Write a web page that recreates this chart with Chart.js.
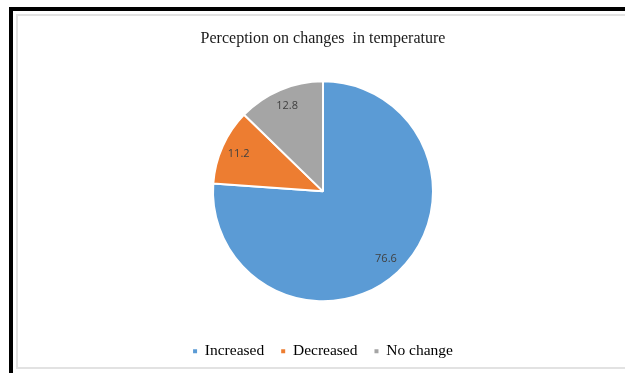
<!DOCTYPE html>
<html>
<head>
<meta charset="utf-8">
<script src="https://cdn.jsdelivr.net/npm/chart.js@4.4.1/dist/chart.umd.min.js"></script>
<style>
  html, body { margin: 0; padding: 0; background: #fff; overflow: hidden; }
  body { width: 625px; height: 373px; position: relative; }
  .frame {
    position: absolute; left: 9px; top: 7px; width: 700px; height: 400px;
    border-left: 4px solid #000; border-top: 4px solid #000;
  }
  .panel {
    position: absolute; left: 16px; top: 14px; width: 700px; height: 351px;
    border: 2px solid #e2e2e2; background: #fff;
  }
  #chart { position: absolute; left: 0; top: 0; }
</style>
</head>
<body>
<div class="frame"></div>
<div class="panel"></div>
<canvas id="chart" width="625" height="373"></canvas>
<script>
// Survey responses: share of respondents (%)
const titleText = 'Perception on changes  in temperature';
const categories = ['Increased', 'Decreased', 'No change'];
const percentages = [76.6, 11.2, 12.8];
const sliceColors = ['#5B9BD5', '#ED7D31', '#A5A5A5'];

// Writes each slice's value inside the slice, along its middle angle
const sliceValueLabels = {
  id: 'sliceValueLabels',
  afterDatasetsDraw(chart) {
    const ctx = chart.ctx;
    const meta = chart.getDatasetMeta(0);
    const values = chart.data.datasets[0].data;
    ctx.save();
    ctx.font = '11px "Open Sans", "Liberation Sans", Arial, sans-serif';
    ctx.fillStyle = '#404040';
    ctx.textAlign = 'center';
    ctx.textBaseline = 'middle';
    meta.data.forEach((arc, i) => {
      const p = arc.getProps(['x', 'y', 'startAngle', 'endAngle', 'outerRadius'], true);
      const mid = (p.startAngle + p.endAngle) / 2;
      const r = p.outerRadius * 0.84;
      ctx.fillText(values[i].toFixed(1), p.x + Math.cos(mid) * r, p.y + Math.sin(mid) * r);
    });
    ctx.restore();
  }
};

new Chart(document.getElementById('chart'), {
  type: 'pie',
  data: {
    labels: categories,
    datasets: [{
      data: percentages,
      backgroundColor: sliceColors,
      borderColor: '#ffffff',
      borderWidth: 2,
      radius: 110
    }]
  },
  options: {
    responsive: false,
    animation: false,
    layout: { padding: { left: 21, right: 0, top: 0, bottom: 4 } },
    plugins: {
      title: {
        display: true,
        text: titleText,
        color: '#1a1a1a',
        font: { family: '"Liberation Serif", "Times New Roman", serif', size: 16, weight: 'normal' },
        padding: { top: 29, bottom: 8 }
      },
      legend: {
        display: true,
        position: 'bottom',
        labels: {
          usePointStyle: true,
          pointStyle: 'rect',
          boxWidth: 4,
          boxHeight: 4,
          padding: 17,
          color: '#262626',
          font: { family: '"Liberation Serif", "Times New Roman", serif', size: 15.5 },
          generateLabels: (chart) => chart.data.labels.map((text, i) => ({
            text,
            fillStyle: sliceColors[i],
            strokeStyle: sliceColors[i],
            lineWidth: 0,
            pointStyle: 'rect',
            hidden: false,
            index: i
          }))
        }
      },
      tooltip: { enabled: false }
    }
  },
  plugins: [sliceValueLabels]
});
</script>
</body>
</html>
